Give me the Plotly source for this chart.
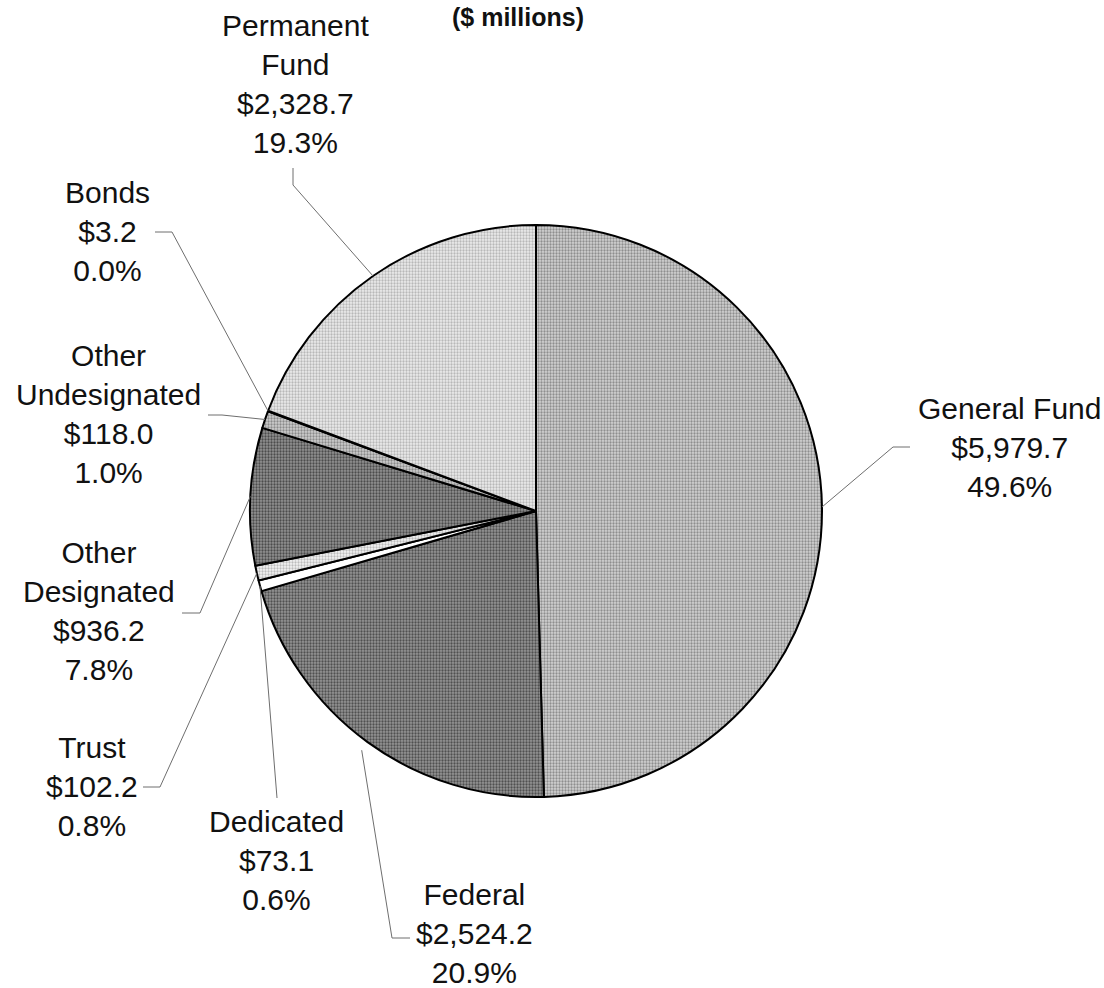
import math
import plotly.graph_objects as go

# Fund sources, $ millions, in clockwise order from 12 o'clock
categories = ["General Fund", "Federal", "Dedicated", "Trust", "Other Designated",
              "Other Undesignated", "Bonds", "Permanent Fund"]
amounts = [5979.7, 2524.2, 73.1, 102.2, 936.2, 118.0, 3.2, 2328.7]
label_names = ["General Fund", "Federal", "Dedicated", "Trust", "Other<br>Designated",
               "Other<br>Undesignated", "Bonds", "Permanent<br>Fund"]

# Styling: stippled grey fills (background + dot colour per slice)
slice_colors = ["#bababa", "#7d7d7d", "#ffffff", "#e4e4e4", "#7a7a7a",
                "#b6b6b6", "#555555", "#dedede"]
stipple_bg = ["#d2d2d2", "#959595", "#ffffff", "#f4f4f4", "#929292",
              "#cecece", "#555555", "#ececec"]
stipple_fg = ["#8e8e8e", "#505050", "#ffffff", "#bcbcbc", "#4c4c4c",
              "#8a8a8a", "#555555", "#b8b8b8"]

W, H = 1104, 988
CX, CY, R = 536, 511, 286          # pie centre and radius in pixels

# label block centre (x, y) and leader line label-side / elbow points, in pixels
label_pos = [(1009, 447), (474, 933), (276, 860), (92, 786),
             (99, 611), (108, 414), (107, 231), (295, 84)]
leader_start = [(910, 447), (410, 938), (277, 798), (143, 787),
                (182, 613), (208, 415), (155, 232), (293, 168)]
leader_elbow = [(893, 447), (392, 938), (277, 798), (160, 787),
                (200, 613), (222, 415), (172, 232), (293, 185)]
leader_gap = [0, 10, 0, 0, 0, 0, 0, 0]


def px(x):
    return x / W


def py(y):
    return 1 - y / H


total = sum(amounts)

fig = go.Figure(go.Pie(
    labels=categories,
    values=amounts,
    sort=False,
    direction="clockwise",
    rotation=0,
    textinfo="none",
    hoverinfo="label+value+percent",
    marker=dict(
        colors=slice_colors,
        line=dict(color="#000000", width=2),
        pattern=dict(shape=".", size=3, solidity=0.45, fillmode="replace",
                     bgcolor=stipple_bg, fgcolor=stipple_fg),
    ),
    domain=dict(x=[px(CX - R), px(CX + R)], y=[py(CY + R), py(CY - R)]),
    showlegend=False,
))

annotations = []
shapes = []
cum = 0.0
for i, (name, val) in enumerate(zip(label_names, amounts)):
    frac = val / total
    mid = (cum + frac / 2) * 2 * math.pi
    cum += frac
    rr = R + leader_gap[i]
    ex_, ey_ = CX + rr * math.sin(mid), CY - rr * math.cos(mid)

    text = f"{name}<br>${val:,.1f}<br>{frac * 100:.1f}%"
    lx, ly = label_pos[i]
    annotations.append(dict(
        x=px(lx), y=py(ly), xref="paper", yref="paper",
        xanchor="center", yanchor="middle", showarrow=False,
        text=text, align="center",
        font=dict(family="Liberation Sans, Arial, sans-serif", size=30, color="#111111"),
    ))

    sx, sy = leader_start[i]
    bx, by = leader_elbow[i]
    path = (f"M {px(sx)} {py(sy)} L {px(bx)} {py(by)} "
            f"L {px(ex_)} {py(ey_)}")
    shapes.append(dict(type="path", path=path, xref="paper", yref="paper",
                       line=dict(color="#6e6e6e", width=1)))

annotations.append(dict(
    x=px(518), y=py(17), xref="paper", yref="paper",
    xanchor="center", yanchor="middle", showarrow=False,
    text="<b>($ millions)</b>",
    font=dict(family="Liberation Sans, Arial, sans-serif", size=25, color="#111111"),
))

fig.update_layout(
    width=W, height=H,
    margin=dict(l=0, r=0, t=0, b=0),
    paper_bgcolor="white",
    plot_bgcolor="white",
    annotations=annotations,
    shapes=shapes,
)

fig.write_html("out.html")
